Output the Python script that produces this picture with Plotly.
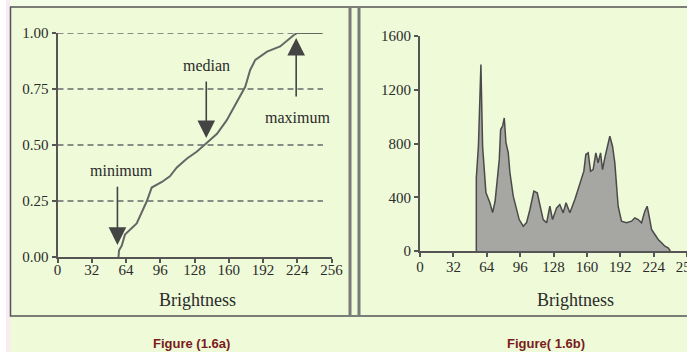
import plotly.graph_objects as go

W, H = 687, 356

# ---------------- data ----------------
cdf_brightness = [57, 57.5, 60, 63, 74, 79, 83.5, 88, 97.5, 105, 111.5, 121, 130, 139.6,
                  149, 158, 167.7, 175.4, 180, 184.8, 195.8, 208, 220.6, 224, 247]
cdf_fraction = [0, 0.03, 0.05, 0.10, 0.15, 0.20, 0.25, 0.31, 0.335, 0.36, 0.40, 0.44, 0.47, 0.51,
                0.55, 0.61, 0.69, 0.76, 0.835, 0.88, 0.917, 0.94, 0.99, 1.0, 1.0]

hist_brightness = [54, 54, 56, 57.5, 58.4, 60, 61.3, 63.2, 67, 69.6,
                   72, 74, 76, 77.3, 79.2, 80.8, 82.4, 84.6, 86.2, 89.4,
                   92.6, 95.1, 99, 102.2, 105.4, 109.2, 112.4, 115, 118.1, 121.4,
                   124.5, 127.1, 131, 134, 137.3, 140, 143.7, 148.5, 151.7, 154.9,
                   157.1, 159, 161.3, 163.5, 166, 168.6, 170.8, 173.1, 175, 177.2,
                   179.4, 182, 184.6, 186.8, 188.5, 190, 193.2, 198, 202.8, 206,
                   209.2, 212.4, 215.6, 217.8, 219.7, 222, 225.2, 228.4, 231.6, 234.8,
                   237.9, 240]
hist_count = [0, 547, 780, 1142, 1388, 780, 606, 435, 360, 286,
              370, 510, 680, 904, 930, 990, 806, 732, 584, 408,
              309, 234, 185, 212, 309, 445, 433, 333, 234, 210,
              333, 234, 321, 346, 284, 359, 284, 383, 458, 532,
              594, 718, 730, 594, 606, 730, 656, 730, 606, 693,
              780, 854, 780, 656, 482, 333, 222, 210, 222, 247,
              234, 210, 296, 333, 259, 160, 123, 86, 61, 36,
              24, 0]

x_ticks = [0, 32, 64, 96, 128, 160, 192, 224, 256]
cdf_ticks = [0, 0.25, 0.5, 0.75, 1.0]
cdf_tick_text = ["0.00", "0.25", "0.50", "0.75", "1.00"]
hist_ticks = [0, 400, 800, 1200, 1600]
grid_levels = [0.25, 0.5, 0.75, 1.0]
grid_end = 248

# ---------------- style ----------------
BG = "#eefad8"
INK = "#555555"
TXT = "#2b2b2b"
SERIF = "Liberation Serif, Times New Roman, serif"

def px_x(p):
    return p / W

def px_y(p):
    return 1 - p / H

fig = go.Figure()

# dashed reference lines on CDF
for lv in grid_levels:
    fig.add_trace(go.Scatter(x=[0, grid_end], y=[lv, lv], mode="lines",
                             line=dict(color="#6a6a6a", width=1.5, dash="6px,4px"),
                             xaxis="x", yaxis="y", hoverinfo="skip", showlegend=False))

# CDF curve
fig.add_trace(go.Scatter(x=cdf_brightness, y=cdf_fraction, mode="lines",
                         line=dict(color="#666666", width=2),
                         xaxis="x", yaxis="y", showlegend=False))

# histogram
fig.add_trace(go.Scatter(x=hist_brightness, y=hist_count, mode="lines",
                         fill="tozeroy", fillcolor="#a6a6a3",
                         line=dict(color="#4a4a4a", width=1.5),
                         xaxis="x2", yaxis="y2", showlegend=False))

axis_common = dict(showline=True, linecolor=INK, linewidth=2, ticks="outside",
                   ticklen=4, tickwidth=2, tickcolor=INK, showgrid=False, zeroline=False,
                   automargin=False,
                   tickfont=dict(family=SERIF, size=15, color=TXT), fixedrange=True)

fig.update_layout(
    template="none",
    width=W, height=H,
    margin=dict(l=0, r=0, t=0, b=0, pad=0, autoexpand=False),
    paper_bgcolor=BG, plot_bgcolor="rgba(0,0,0,0)",
    showlegend=False,
    xaxis=dict(domain=[px_x(57.5), px_x(331.5)], range=[0, 256], tickvals=x_ticks,
               anchor="y", ticklabelstandoff=-6, **axis_common),
    yaxis=dict(domain=[px_y(257), px_y(33)], range=[0, 1], tickvals=cdf_ticks,
               ticktext=cdf_tick_text, anchor="x", **axis_common),
    xaxis2=dict(domain=[px_x(420), 1.0], range=[0, 256], tickvals=x_ticks,
                anchor="y2", ticklabelstandoff=-3, ticklabeloverflow="allow", **axis_common),
    yaxis2=dict(domain=[px_y(251), px_y(36)], range=[0, 1600], tickvals=hist_ticks,
                anchor="x2", **axis_common),
)

shapes = [
    # white left margin and pink strip
    dict(type="rect", xref="paper", yref="paper", x0=0, x1=px_x(6), y0=0, y1=1,
         fillcolor="#ffffff", line=dict(width=0), layer="below"),
    dict(type="rect", xref="paper", yref="paper", x0=px_x(6), x1=px_x(10), y0=px_y(352), y1=1,
         fillcolor="#fbe9f3", line=dict(width=0), layer="below"),
    # white bottom line
    dict(type="rect", xref="paper", yref="paper", x0=0, x1=1, y0=0, y1=px_y(352),
         fillcolor="#ffffff", line=dict(width=0), layer="below"),
    # lighter top strip
    dict(type="rect", xref="paper", yref="paper", x0=px_x(10), x1=1, y0=px_y(6), y1=1,
         fillcolor="#f4fde6", line=dict(width=0), layer="below"),
    # frame
    dict(type="rect", xref="paper", yref="paper", x0=px_x(10.5), x1=px_x(692), y0=px_y(316),
         y1=px_y(7), line=dict(color="#555555", width=1.5)),
    # double divider
    dict(type="line", xref="paper", yref="paper", x0=px_x(350), x1=px_x(350), y0=px_y(316),
         y1=px_y(7), line=dict(color="#7a7a7a", width=3)),
    dict(type="line", xref="paper", yref="paper", x0=px_x(359), x1=px_x(359), y0=px_y(316),
         y1=px_y(7), line=dict(color="#7a7a7a", width=3)),
]
fig.update_layout(shapes=shapes)

ann = []
# axis titles
ann.append(dict(text="Brightness", xref="paper", yref="paper", x=px_x(197), y=px_y(300),
                xanchor="center", yanchor="middle", showarrow=False,
                font=dict(family=SERIF, size=18, color=TXT)))
ann.append(dict(text="Brightness", xref="paper", yref="paper", x=px_x(575), y=px_y(300),
                xanchor="center", yanchor="middle", showarrow=False,
                font=dict(family=SERIF, size=18, color=TXT)))
# captions
cap_font = dict(family="Liberation Sans, Arial, sans-serif", size=13, color="#7a1b1b")
ann.append(dict(text="<b>Figure (1.6a)</b>", xref="paper", yref="paper", x=px_x(191),
                y=px_y(343), xanchor="center", yanchor="middle", showarrow=False, font=cap_font))
ann.append(dict(text="<b>Figure( 1.6b)</b>", xref="paper", yref="paper", x=px_x(546),
                y=px_y(343), xanchor="center", yanchor="middle", showarrow=False, font=cap_font))

# arrows on CDF
def arrow(x, y_head, y_tail):
    return dict(x=x, y=y_head, ax=x, ay=y_tail, xref="x", yref="y", axref="x", ayref="y",
                text="", showarrow=True, arrowhead=2, arrowsize=2.2, arrowwidth=1.6,
                arrowcolor="#444444")

ann.append(arrow(139, 0.531, 0.79))
ann.append(arrow(223, 0.978, 0.71))
ann.append(arrow(56, 0.054, 0.32))

lab_font = dict(family=SERIF, size=16, color=TXT)
for txt, xv, yv in [("median", 139, 0.857), ("maximum", 224, 0.625), ("minimum", 60, 0.388)]:
    ann.append(dict(text=txt, x=xv, y=yv, xref="x", yref="y", xanchor="center",
                    yanchor="middle", showarrow=False, font=lab_font))

fig.update_layout(annotations=ann)

fig.write_html("out.html", config={"displayModeBar": False},
               post_script="document.body.style.margin='0';document.body.style.overflow='hidden';")
